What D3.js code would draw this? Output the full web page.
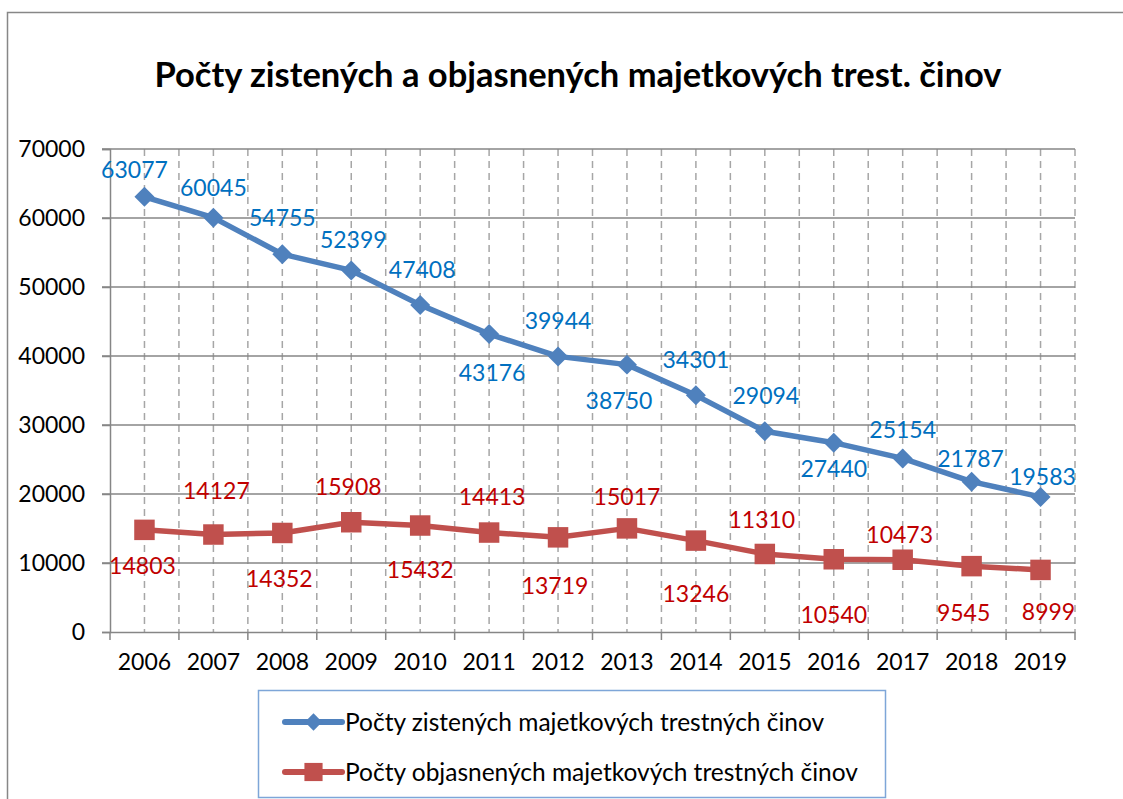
<!DOCTYPE html>
<html>
<head>
<meta charset="utf-8">
<script src="https://cdnjs.cloudflare.com/ajax/libs/d3/7.8.5/d3.min.js"></script>
<style>
  body { margin: 0; background: #fff; }
  svg { font-family: Lato, "Open Sans", sans-serif; }
</style>
</head>
<body>
<div id="chart"></div>
<script>
var years = ["2006", "2007", "2008", "2009", "2010", "2011", "2012", "2013", "2014", "2015", "2016", "2017", "2018", "2019"];
var zistene = [63077, 60045, 54755, 52399, 47408, 43176, 39944, 38750, 34301, 29094, 27440, 25154, 21787, 19583];
var objasnene = [14803, 14127, 14352, 15908, 15432, 14413, 13719, 15017, 13246, 11310, 10540, 10473, 9545, 8999];
var yTicks = [0, 10000, 20000, 30000, 40000, 50000, 60000, 70000];
var seriesNames = ["Počty zistených majetkových trestných činov", "Počty objasnených majetkových trestných činov"];
var title = "Počty zistených a objasnených majetkových trest. činov";

// label offsets (dx, dy) from the marker, as placed in the original
var offZistene = [[-10, -27], [0, -30], [0, -36], [2, -31], [2, -35], [3, 39], [0, -36], [-8, 36], [0, -36], [1, -36], [0, 26], [0, -29], [-1, -23], [2, -20]];
var offObjasnene = [[-2, 36], [3, -44], [-3, 46], [-3, -36], [0, 44], [3, -36], [-3, 48], [0, -32], [0, 53], [-3, -34], [0, 55], [-3, -25], [-8, 47], [8, 42]];

var blue = "#4F81BD", red = "#C0504D";
var blueText = "#0070C0", redText = "#C00000";

var width = 1123, height = 799;
var plot = { left: 110, right: 1075, top: 149, bottom: 632 };

var svg = d3.select("#chart").append("svg")
  .attr("width", width)
  .attr("height", height);

// outer frame of the chart object
svg.append("rect")
  .attr("x", 7.5).attr("y", 12.5)
  .attr("width", 1300).attr("height", 1000)
  .attr("fill", "none")
  .attr("stroke", "#878787")
  .attr("stroke-width", 1.5);

svg.append("text")
  .attr("x", 578).attr("y", 87)
  .attr("text-anchor", "middle")
  .attr("font-size", 34.5)
  .attr("font-weight", "bold")
  .text(title);

var x = d3.scaleBand().domain(years).range([plot.left, plot.right]);
var y = d3.scaleLinear().domain([0, 70000]).range([plot.bottom, plot.top]);
var bw = x.bandwidth();
function cx(i) { return x(years[i]) + bw / 2; }

// vertical dashed gridlines at band centers and band edges
var vlines = [];
years.forEach(function(d, i) {
  vlines.push(x(d) + bw / 2);
  vlines.push(x(d) + bw);
});
svg.append("g").selectAll("line")
  .data(vlines)
  .enter().append("line")
  .attr("x1", (d) => d).attr("x2", (d) => d)
  .attr("y1", plot.top).attr("y2", plot.bottom)
  .attr("stroke", "#a6a6a6")
  .attr("stroke-width", 1.5)
  .attr("stroke-dasharray", "7,5");

// horizontal gridlines
svg.append("g").selectAll("line")
  .data(yTicks.slice(1))
  .enter().append("line")
  .attr("x1", plot.left - 8).attr("x2", plot.right)
  .attr("y1", (d) => y(d)).attr("y2", (d) => y(d))
  .attr("stroke", "#868686")
  .attr("stroke-width", 1.5);

// y axis
var yAxis = d3.axisLeft(y).tickValues(yTicks).tickFormat(d3.format("d")).tickSize(8).tickPadding(17);
var gy = svg.append("g")
  .attr("transform", "translate(" + plot.left + ",0)")
  .call(yAxis);
gy.selectAll("text").attr("font-size", 23).attr("font-family", "Lato").attr("fill", "#000");

// x axis: ticks on band edges
var xAxis = d3.axisBottom(x).tickSize(0).tickPadding(22);
var gx = svg.append("g")
  .attr("transform", "translate(0," + plot.bottom + ")")
  .call(xAxis);
gx.selectAll("text").attr("font-size", 23).attr("font-family", "Lato").attr("fill", "#000");
gx.append("g").selectAll("line")
  .data([plot.left].concat(years.map((d) => x(d) + bw)))
  .enter().append("line")
  .attr("x1", (d) => d).attr("x2", (d) => d)
  .attr("y1", 0).attr("y2", 8)
  .attr("stroke", "#868686")
  .attr("stroke-width", 1.5);
svg.selectAll(".domain").attr("stroke", "#868686").attr("stroke-width", 1.5);
gy.selectAll(".tick line").attr("stroke", "#868686").attr("stroke-width", 1.5);

var line = d3.line()
  .x((d, i) => cx(i))
  .y((d) => y(d));

function drawSeries(values, color, symbolType, size, rotate, textColor, offs) {
  var g = svg.append("g");
  g.append("path")
    .datum(values)
    .attr("fill", "none")
    .attr("stroke", color)
    .attr("stroke-width", 5.5)
    .attr("stroke-linejoin", "round")
    .attr("d", line);
  g.selectAll("path.marker")
    .data(values)
    .enter().append("path")
    .attr("class", "marker")
    .attr("d", d3.symbol(symbolType, size))
    .attr("fill", color)
    .attr("transform", (d, i) => "translate(" + cx(i) + "," + y(d) + ") rotate(" + rotate + ")");
  g.selectAll("text")
    .data(values)
    .enter().append("text")
    .attr("x", (d, i) => cx(i) + offs[i][0])
    .attr("y", (d, i) => y(d) + offs[i][1])
    .attr("dy", "0.36em")
    .attr("text-anchor", "middle")
    .attr("font-size", 23)
    .attr("fill", textColor)
    .text((d) => d);
}

drawSeries(objasnene, red, d3.symbolSquare, 420, 0, redText, offObjasnene);
drawSeries(zistene, blue, d3.symbolSquare, 200, 45, blueText, offZistene);

// legend
var legend = svg.append("g");
legend.append("rect")
  .attr("x", 258.5).attr("y", 690.5)
  .attr("width", 627).attr("height", 107)
  .attr("fill", "#fff")
  .attr("stroke", "#7EA6D8")
  .attr("stroke-width", 1.5);

var legendItems = [
  { name: seriesNames[0], color: blue, type: d3.symbolSquare, size: 150, rotate: 45, y: 722 },
  { name: seriesNames[1], color: red, type: d3.symbolSquare, size: 330, rotate: 0, y: 772 }
];
var li = legend.selectAll("g.item")
  .data(legendItems)
  .enter().append("g")
  .attr("class", "item");
li.append("line")
  .attr("x1", 285).attr("x2", 342)
  .attr("y1", (d) => d.y).attr("y2", (d) => d.y)
  .attr("stroke", (d) => d.color)
  .attr("stroke-width", 6)
  .attr("stroke-linecap", "round");
li.append("path")
  .attr("d", (d) => d3.symbol(d.type, d.size)())
  .attr("fill", (d) => d.color)
  .attr("transform", (d) => "translate(313.5," + d.y + ") rotate(" + d.rotate + ")");
li.append("text")
  .attr("x", 345)
  .attr("y", (d) => d.y)
  .attr("dy", "0.36em")
  .attr("font-size", 24.5)
  .attr("fill", "#000")
  .text((d) => d.name);
</script>
</body>
</html>
